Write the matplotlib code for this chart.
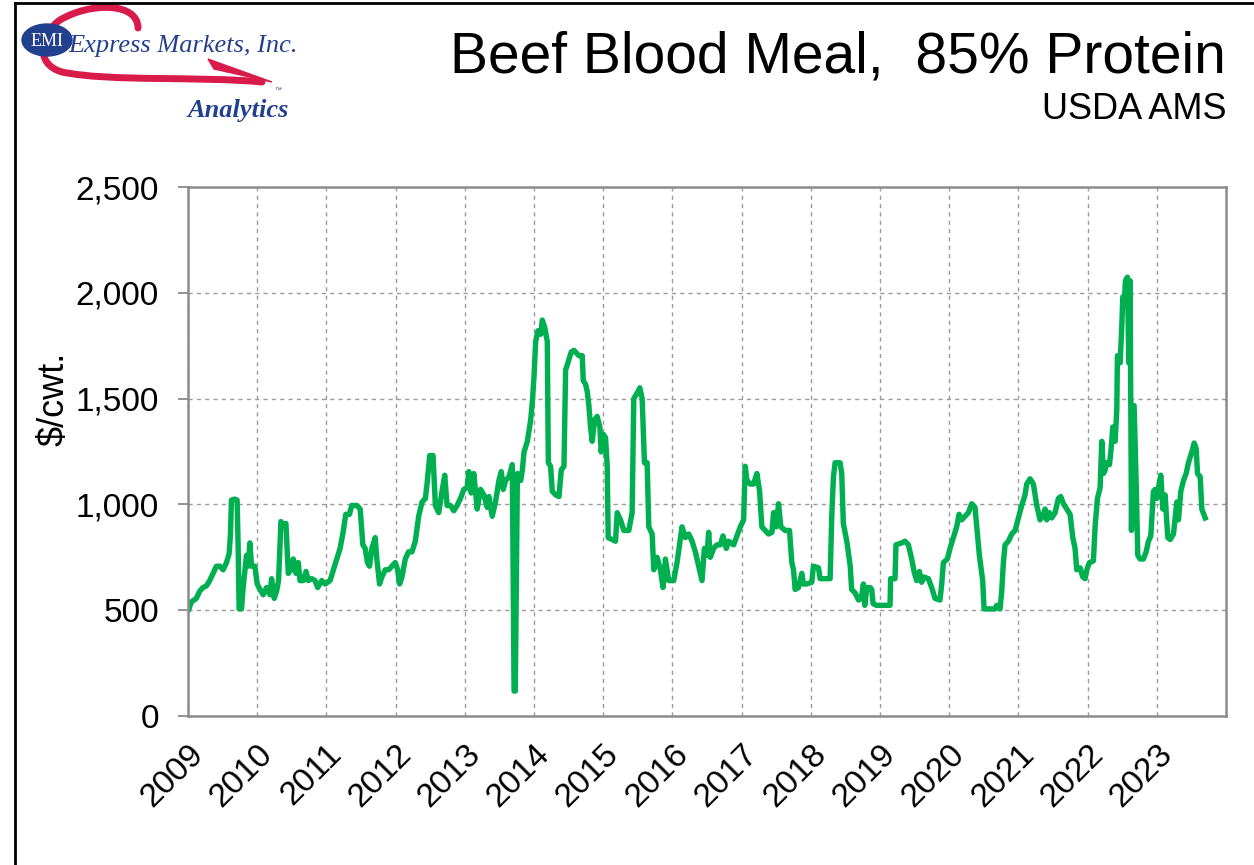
import matplotlib
matplotlib.use("Agg")
import matplotlib.pyplot as plt
import matplotlib.transforms as mtransforms
from matplotlib.patches import Ellipse, PathPatch, Polygon
from matplotlib.path import Path
from matplotlib.ticker import FuncFormatter

# weekly-ish price series (decimal year, $/cwt.)
years = [
    2009.014, 2009.048, 2009.121, 2009.169, 2009.217, 2009.266, 2009.314, 2009.362, 2009.411, 2009.459,
    2009.507, 2009.556, 2009.594, 2009.614, 2009.628, 2009.676, 2009.710, 2009.725, 2009.739, 2009.773,
    2009.797, 2009.845, 2009.870, 2009.894, 2009.918, 2009.966, 2010.000, 2010.039, 2010.087, 2010.135,
    2010.184, 2010.208, 2010.246, 2010.280, 2010.309, 2010.343, 2010.377, 2010.415, 2010.449, 2010.488,
    2010.522, 2010.560, 2010.594, 2010.618, 2010.667, 2010.705, 2010.739, 2010.787, 2010.836, 2010.874,
    2010.932, 2010.981, 2011.053, 2011.101, 2011.150, 2011.198, 2011.246, 2011.280, 2011.333, 2011.367,
    2011.440, 2011.488, 2011.527, 2011.560, 2011.594, 2011.623, 2011.657, 2011.705, 2011.729, 2011.768,
    2011.802, 2011.850, 2011.899, 2011.947, 2011.995, 2012.029, 2012.058, 2012.092, 2012.140, 2012.188,
    2012.237, 2012.285, 2012.333, 2012.382, 2012.430, 2012.454, 2012.493, 2012.541, 2012.575, 2012.623,
    2012.671, 2012.710, 2012.744, 2012.792, 2012.841, 2012.889, 2012.937, 2012.986, 2013.034, 2013.058,
    2013.092, 2013.130, 2013.179, 2013.227, 2013.275, 2013.324, 2013.348, 2013.396, 2013.444, 2013.493,
    2013.527, 2013.556, 2013.589, 2013.638, 2013.686, 2013.712, 2013.730, 2013.760, 2013.808, 2013.832,
    2013.856, 2013.904, 2013.952, 2013.976, 2014.000, 2014.024, 2014.058, 2014.096, 2014.120, 2014.154,
    2014.192, 2014.207, 2014.240, 2014.264, 2014.313, 2014.361, 2014.394, 2014.433, 2014.457, 2014.505,
    2014.538, 2014.577, 2014.649, 2014.697, 2014.712, 2014.745, 2014.769, 2014.793, 2014.817, 2014.841,
    2014.875, 2014.913, 2014.952, 2014.971, 2015.000, 2015.034, 2015.058, 2015.072, 2015.130, 2015.178,
    2015.202, 2015.250, 2015.298, 2015.370, 2015.418, 2015.442, 2015.490, 2015.529, 2015.563, 2015.596,
    2015.635, 2015.659, 2015.707, 2015.731, 2015.779, 2015.827, 2015.865, 2015.899, 2015.947, 2016.019,
    2016.067, 2016.139, 2016.188, 2016.236, 2016.284, 2016.332, 2016.380, 2016.428, 2016.462, 2016.500,
    2016.524, 2016.548, 2016.596, 2016.644, 2016.692, 2016.731, 2016.779, 2016.813, 2016.885, 2016.933,
    2016.981, 2017.029, 2017.053, 2017.077, 2017.125, 2017.173, 2017.221, 2017.260, 2017.293, 2017.341,
    2017.389, 2017.438, 2017.462, 2017.500, 2017.534, 2017.567, 2017.630, 2017.692, 2017.726, 2017.750,
    2017.774, 2017.822, 2017.870, 2017.894, 2017.942, 2018.014, 2018.038, 2018.111, 2018.135, 2018.279,
    2018.303, 2018.327, 2018.351, 2018.423, 2018.447, 2018.470, 2018.520, 2018.570, 2018.590, 2018.640,
    2018.690, 2018.730, 2018.760, 2018.780, 2018.810, 2018.860, 2018.880, 2018.900, 2018.950, 2019.145,
    2019.154, 2019.217, 2019.231, 2019.313, 2019.361, 2019.410, 2019.458, 2019.492, 2019.530, 2019.569,
    2019.602, 2019.636, 2019.699, 2019.747, 2019.795, 2019.867, 2019.892, 2019.916, 2019.973, 2020.012,
    2020.060, 2020.108, 2020.142, 2020.181, 2020.229, 2020.277, 2020.325, 2020.373, 2020.398, 2020.436,
    2020.484, 2020.504, 2020.663, 2020.687, 2020.735, 2020.759, 2020.783, 2020.807, 2020.855, 2020.904,
    2020.952, 2021.000, 2021.048, 2021.096, 2021.120, 2021.169, 2021.217, 2021.265, 2021.313, 2021.352,
    2021.386, 2021.410, 2021.448, 2021.482, 2021.530, 2021.578, 2021.612, 2021.651, 2021.699, 2021.747,
    2021.786, 2021.819, 2021.843, 2021.892, 2021.930, 2021.964, 2021.988, 2022.027, 2022.084, 2022.108,
    2022.142, 2022.181, 2022.205, 2022.229, 2022.253, 2022.277, 2022.316, 2022.340, 2022.364, 2022.398,
    2022.422, 2022.431, 2022.470, 2022.494, 2022.508, 2022.528, 2022.547, 2022.576, 2022.595, 2022.614,
    2022.634, 2022.653, 2022.672, 2022.701, 2022.725, 2022.759, 2022.807, 2022.846, 2022.880, 2022.913,
    2022.952, 2022.976, 2023.000, 2023.024, 2023.058, 2023.087, 2023.120, 2023.159, 2023.193, 2023.241,
    2023.265, 2023.289, 2023.313, 2023.347, 2023.386, 2023.424, 2023.458, 2023.506, 2023.540, 2023.569,
    2023.588, 2023.627, 2023.651, 2023.699,
]
prices = [
    506, 539, 556, 590, 607, 615, 640, 674, 708, 708,
    691, 725, 767, 860, 1020, 1025, 1020, 792, 506, 506,
    607, 759, 708, 818, 708, 708, 624, 599, 573, 607,
    573, 649, 556, 590, 640, 919, 902, 910, 674, 691,
    742, 674, 725, 640, 640, 683, 640, 649, 640, 607,
    640, 624, 640, 691, 742, 792, 877, 953, 953, 995,
    995, 978, 809, 792, 725, 708, 792, 843, 742, 624,
    657, 691, 691, 708, 725, 691, 624, 657, 742, 776,
    776, 826, 944, 1011, 1028, 1096, 1231, 1231, 995, 961,
    1062, 1138, 995, 995, 970, 995, 1028, 1071, 1079, 1155,
    1054, 1146, 978, 1071, 1045, 986, 1037, 944, 1011, 1113,
    1155, 1071, 1113, 1130, 1188, 118, 118, 1146, 1113, 1163,
    1248, 1298, 1399, 1484, 1602, 1770, 1821, 1804, 1871, 1838,
    1770, 1197, 1180, 1062, 1045, 1037, 1163, 1180, 1635, 1686,
    1720, 1728, 1703, 1703, 1585, 1568, 1534, 1467, 1366, 1298,
    1399, 1416, 1366, 1248, 1332, 1315, 1180, 843, 834, 826,
    961, 927, 877, 877, 961, 1500, 1526, 1551, 1500, 1197,
    1197, 894, 860, 691, 750, 691, 607, 742, 640, 640,
    725, 894, 843, 860, 826, 776, 708, 640, 792, 759,
    868, 750, 792, 809, 809, 851, 792, 826, 809, 851,
    894, 927, 1180, 1113, 1096, 1096, 1146, 1062, 894, 877,
    860, 868, 961, 894, 1003, 894, 877, 877, 725, 691,
    598, 607, 674, 624, 624, 632, 708, 700, 649, 649,
    944, 1130, 1197, 1197, 1146, 910, 826, 708, 598, 582,
    548, 556, 624, 523, 607, 607, 598, 531, 523, 523,
    649, 649, 809, 818, 826, 809, 742, 683, 640, 683,
    632, 657, 649, 607, 556, 548, 624, 725, 742, 792,
    843, 894, 953, 927, 944, 961, 1003, 986, 894, 759,
    640, 506, 506, 523, 506, 590, 725, 809, 826, 860,
    877, 936, 995, 1045, 1096, 1121, 1096, 995, 927, 944,
    978, 927, 961, 936, 961, 1028, 1037, 1003, 978, 953,
    843, 792, 691, 700, 657, 649, 691, 725, 733, 894,
    1028, 1079, 1298, 1146, 1163, 1197, 1188, 1264, 1366, 1298,
    1450, 1703, 1669, 1838, 1981, 1939, 2057, 2074, 1669, 2057,
    877, 1467, 1467, 1113, 759, 742, 742, 776, 826, 851,
    1062, 1071, 1028, 1079, 1138, 978, 1045, 843, 834, 860,
    936, 1011, 927, 1062, 1113, 1146, 1197, 1248, 1290, 1264,
    1146, 1130, 978, 936,
]

tick_years = list(range(2009, 2024))
y_ticks = [0, 500, 1000, 1500, 2000, 2500]

W, H = 1254, 865
fig = plt.figure(figsize=(W / 100, H / 100), dpi=100)
plt.rcParams['font.family'] = ['Liberation Sans', 'DejaVu Sans']

# overlay in pixel coordinates for the frame and logo
ov = fig.add_axes([0, 0, 1, 1], zorder=0)
ov.set_xlim(0, W)
ov.set_ylim(H, 0)
ov.axis('off')
ov.plot([15, W], [3, 3], color='black', lw=2)
ov.plot([15, 15], [3, H], color='black', lw=2)

red = '#d81b4a'
blue = '#23408e'
swoosh = Path(
    [(138, 28), (138, 2), (90, 2), (60, 20),
     (40, 34), (34, 64), (62, 72),
     (110, 82), (200, 76), (262, 82)],
    [Path.MOVETO, Path.CURVE4, Path.CURVE4, Path.CURVE4,
     Path.CURVE4, Path.CURVE4, Path.CURVE4,
     Path.CURVE4, Path.CURVE4, Path.CURVE4])
ov.add_patch(PathPatch(swoosh, facecolor='none', edgecolor=red, lw=5, capstyle='round'))
ov.add_patch(Polygon([(208, 59), (272, 82), (214, 69)], closed=True, color=red))
ov.add_patch(Ellipse((47, 40), 50, 32, color=blue))
ov.text(47, 41, 'EMI', color='white', fontsize=13, family='Liberation Serif',
        ha='center', va='center')
ov.text(68, 52, 'Express Markets, Inc.', color=blue, fontsize=19,
        family='Liberation Serif', style='italic', ha='left', va='baseline')
ov.text(289, 117, 'Analytics', color=blue, fontsize=19, family='Liberation Serif',
        style='italic', weight='bold', ha='right', va='baseline')
ov.text(278, 90, '™', color=blue, fontsize=5, ha='center', va='center')

ov.text(1226, 72, 'Beef Blood Meal,  85% Protein', fontsize=41, ha='right', va='baseline')
ov.text(1226, 119, 'USDA AMS', fontsize=26, ha='right', va='baseline')

# main chart
ax = fig.add_axes([188 / W, 1 - 716 / H, (1226 - 188) / W, (716 - 187) / H], zorder=1)
ax.plot(years, prices, color='#00b050', lw=3.9, solid_joinstyle='round')

ax.set_xlim(2009, 2024)
ax.set_ylim(0, 2500)
ax.set_xticks(tick_years)
ax.set_xticklabels([str(y) for y in tick_years], rotation=45, ha='right',
                   va='top', rotation_mode='anchor', fontsize=24)
shift = mtransforms.ScaledTranslation(-6 / 72, -2 / 72, fig.dpi_scale_trans)
for lab in ax.get_xticklabels():
    lab.set_transform(lab.get_transform() + shift)
ax.set_yticks(y_ticks)
ax.yaxis.set_major_formatter(FuncFormatter(lambda v, p: f'{v:,.0f}'))
ax.tick_params(axis='y', labelsize=24, length=7, width=1.2, color='#808080', pad=14)
ax.tick_params(axis='x', length=0, pad=16)

ax.grid(True, color='#9a9a9a', linestyle=(0, (3, 3)), lw=1)
ax.set_axisbelow(True)
for s in ax.spines.values():
    s.set_color('#8c8c8c')
    s.set_linewidth(1.8)

ax.set_ylabel('$/cwt.', fontsize=26)
ax.yaxis.set_label_coords(-0.112, 0.6)

fig.savefig('out.png', dpi=100)
